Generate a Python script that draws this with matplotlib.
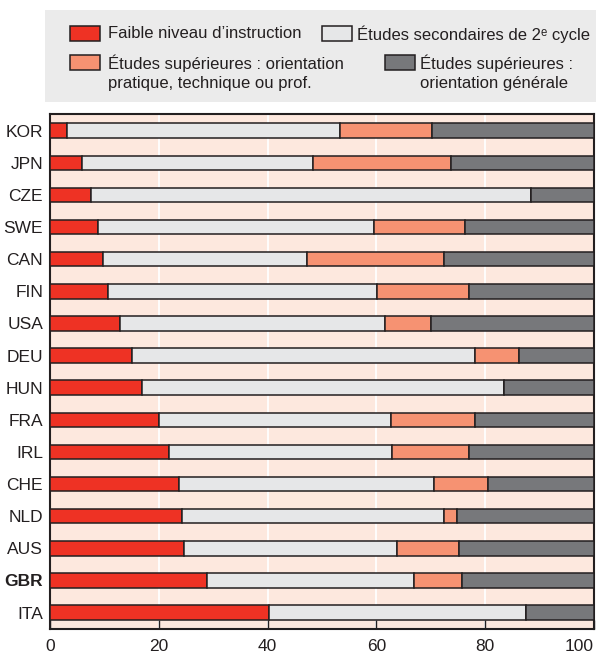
import numpy as np
import matplotlib.pyplot as plt
from matplotlib.patches import Rectangle

plt.rcParams['font.family'] = ['Liberation Sans', 'DejaVu Sans']

# Données (% de la population)
countries = ["KOR", "JPN", "CZE", "SWE", "CAN", "FIN", "USA", "DEU",
             "HUN", "FRA", "IRL", "CHE", "NLD", "AUS", "GBR", "ITA"]
low_edu = [3.2, 5.8, 7.6, 8.9, 9.7, 10.7, 12.9, 15.1,
           17.0, 20.0, 21.8, 23.8, 24.3, 24.6, 28.9, 40.2]
upper_sec = [50.2, 42.6, 80.8, 50.7, 37.6, 49.5, 48.6, 63.1,
             66.5, 42.6, 41.1, 46.8, 48.1, 39.2, 38.1, 47.3]
tertiary_voc = [16.8, 25.3, 0, 16.6, 25.2, 16.8, 8.5, 8.0,
                0, 15.5, 14.2, 10.0, 2.4, 11.4, 8.8, 0]
tertiary_gen = [29.8, 26.3, 11.6, 23.8, 27.5, 23.0, 30.0, 13.8,
                16.5, 21.9, 22.9, 19.4, 25.2, 24.8, 24.2, 12.5]

labels = ["Faible niveau d\u2019instruction",
          "\u00c9tudes secondaires de 2\u1d49 cycle",
          "\u00c9tudes sup\u00e9rieures : orientation\npratique, technique ou prof.",
          "\u00c9tudes sup\u00e9rieures :\norientation g\u00e9n\u00e9rale"]
colors = ["#ee3224", "#e6e7e8", "#f69272", "#77787b"]
edge = "#231f20"

series = [low_edu, upper_sec, tertiary_voc, tertiary_gen]

fig = plt.figure(figsize=(5.96, 6.56), dpi=100)
ax = fig.add_axes([50 / 596, 1 - 629 / 656, 544 / 596, 515 / 656])
ax.set_facecolor("#fde8de")

y = np.arange(len(countries))
left = np.zeros(len(countries))
for vals, col in zip(series, colors):
    vals = np.array(vals)
    ax.barh(y, vals, left=left, height=0.45, color=col,
            edgecolor=edge, linewidth=1.1, zorder=3)
    left += vals

ax.set_xlim(0, 100)
ax.set_ylim(15.51, -0.52)
ax.set_yticks(y)
ax.set_yticklabels(countries)
for t in ax.get_yticklabels():
    if t.get_text() == "GBR":
        t.set_fontweight("bold")
ax.set_xticks([0, 20, 40, 60, 80, 100])
ax.tick_params(axis="y", length=0, pad=5, labelsize=12.5, labelcolor="#231f20")
ax.tick_params(axis="x", direction="in", length=6.5, width=1, color=edge,
               pad=7, labelsize=12.5, labelcolor="#231f20")
ax.get_xticklabels()[-1].set_horizontalalignment("right")
ax.grid(axis="x", color="white", linewidth=1.3, zorder=1)
ax.set_axisbelow(True)
for s in ax.spines.values():
    s.set_color(edge)
    s.set_linewidth(1.5)

# Légende
fig.add_artist(Rectangle((45 / 596, 1 - 102 / 656), 551 / 596, 92 / 656,
                         transform=fig.transFigure, facecolor="#ebebeb",
                         edgecolor="none", zorder=0))
legend_pos = [(70, 26, 108, 34), (322, 26, 357, 34),
              (70, 55, 108, 73), (385, 55, 420, 73)]
for (px, py, tx, ty), lab, col in zip(legend_pos, labels, colors):
    fig.add_artist(Rectangle((px / 596, 1 - (py + 15) / 656), 30 / 596, 15 / 656,
                             transform=fig.transFigure, facecolor=col,
                             edgecolor=edge, linewidth=1.1))
    fig.text(tx / 596, 1 - ty / 656, lab, fontsize=12, color="#231f20",
             va="center", ha="left", linespacing=1.35)

fig.savefig("out.png", dpi=100)
